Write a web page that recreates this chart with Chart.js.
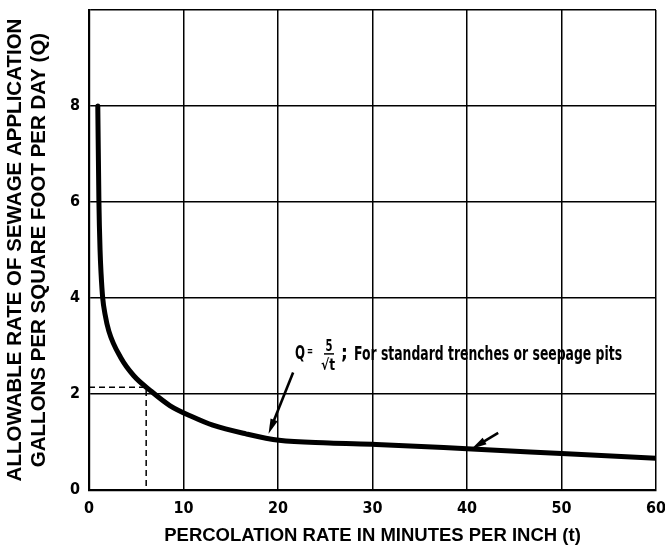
<!DOCTYPE html>
<html>
<head>
<meta charset="utf-8">
<script src="https://cdn.jsdelivr.net/npm/chart.js@4.4.1/dist/chart.umd.min.js"></script>
<style>
html, body { margin: 0; padding: 0; background: #fff; }
#wrap { width: 665px; height: 552px; }
</style>
</head>
<body>
<div id="wrap"><canvas id="chart" width="665" height="552"></canvas></div>
<script>
// percolation rate t (min per inch) and allowable rate Q
const rateT = [0.93, 1.05, 1.17, 1.28, 1.45, 1.7, 2.1, 3.35, 4.74, 6.5, 8.55, 11, 13.1, 16.6, 20.1, 25.4, 30.4, 40, 50, 60];
const rateQ = [8.0, 6.0, 5.0, 4.5, 4.0, 3.66, 3.31, 2.76, 2.38, 2.07, 1.76, 1.52, 1.35, 1.17, 1.035, 0.98, 0.95, 0.86, 0.76, 0.66];

// dashed reading guide (t about 6 -> Q about 2.1)
const guideT = [0, 6.05, 6.05];
const guideQ = [2.14, 2.14, 0];

const xTicks = [0, 10, 20, 30, 40, 50, 60];
const yTicks = [0, 2, 4, 6, 8];
const yTop = 10;

// arrows pointing at the curve, [t, Q]
const arrowFrom = [[21.6, 2.45], [43.3, 1.19]];
const arrowTo = [[19.0, 1.17], [40.5, 0.86]];
const noteAt = [21.8, 2.7];
const noteText = 'For standard trenches or seepage pits';

const narrow = '"Liberation Sans Narrow", "DejaVu Sans Condensed", sans-serif';
const wide = '"Liberation Sans", Arial, sans-serif';

const toPoints = (xs, ys) => xs.map((x, i) => ({ x: x, y: ys[i] }));

const notes = {
    id: 'notes',
    afterDatasetsDraw(chart) {
        const ctx = chart.ctx;
        const xs = chart.scales.x;
        const ys = chart.scales.y;
        ctx.save();
        ctx.fillStyle = '#000';
        ctx.strokeStyle = '#000';

        // arrows
        arrowFrom.forEach((from, i) => {
            const x1 = xs.getPixelForValue(from[0]), y1 = ys.getPixelForValue(from[1]);
            const x2 = xs.getPixelForValue(arrowTo[i][0]), y2 = ys.getPixelForValue(arrowTo[i][1]);
            const a = Math.atan2(y2 - y1, x2 - x1);
            const len = 15, half = 3.8;
            ctx.lineWidth = 2.6;
            ctx.beginPath();
            ctx.moveTo(x1, y1);
            ctx.lineTo(x2 - Math.cos(a) * len * 0.8, y2 - Math.sin(a) * len * 0.8);
            ctx.stroke();
            ctx.beginPath();
            ctx.moveTo(x2, y2);
            ctx.lineTo(x2 - Math.cos(a) * len - Math.sin(a) * half, y2 - Math.sin(a) * len + Math.cos(a) * half);
            ctx.lineTo(x2 - Math.cos(a) * len + Math.sin(a) * half, y2 - Math.sin(a) * len - Math.cos(a) * half);
            ctx.closePath();
            ctx.fill();
        });

        // formula note: Q = 5 / sqrt(t) ; text
        const x = xs.getPixelForValue(noteAt[0]);
        const y = ys.getPixelForValue(noteAt[1]);
        ctx.textBaseline = 'alphabetic';
        ctx.textAlign = 'left';
        ctx.font = 'bold 19px ' + narrow;
        ctx.fillText('Q', x, y - 1, 10);
        ctx.font = 'bold 13px ' + narrow;
        ctx.fillText('=', x + 12, y - 5, 6);
        const cx = x + 33;
        ctx.textAlign = 'center';
        ctx.font = 'bold 15px ' + narrow;
        ctx.fillText('5', cx + 1, y - 9, 7);
        ctx.lineWidth = 1.5;
        ctx.beginPath();
        ctx.moveTo(cx - 4, y - 6.5);
        ctx.lineTo(cx + 6, y - 6.5);
        ctx.stroke();
        ctx.fillText('\u221At', cx, y + 10, 14);
        ctx.textAlign = 'left';
        ctx.font = 'bold 19px ' + narrow;
        ctx.fillText(';', x + 46, y - 1);
        ctx.fillText(noteText, x + 59, y, 268);
        ctx.restore();
    }
};

new Chart(document.getElementById('chart'), {
    type: 'line',
    data: {
        datasets: [
            {
                data: toPoints(rateT, rateQ),
                borderColor: '#000',
                borderWidth: 5,
                pointRadius: 0,
                cubicInterpolationMode: 'monotone',
                borderCapStyle: 'round',
                fill: false
            },
            {
                data: toPoints(guideT, guideQ),
                borderColor: '#000',
                borderWidth: 1.5,
                borderDash: [6, 4],
                pointRadius: 0,
                tension: 0,
                fill: false
            }
        ]
    },
    options: {
        responsive: false,
        animation: false,
        devicePixelRatio: 1,
        layout: { padding: { top: 10, right: 9, left: 0, bottom: 0 } },
        plugins: {
            legend: { display: false },
            tooltip: { enabled: false }
        },
        scales: {
            x: {
                type: 'linear',
                min: xTicks[0],
                max: xTicks[xTicks.length - 1],
                afterFit: s => { s.height = 62; s.paddingLeft = 0; s.paddingRight = 0; },
                afterBuildTicks: s => { s.ticks = xTicks.map(v => ({ value: v })); },
                grid: { color: '#000', lineWidth: 1.5, drawTicks: false },
                border: { color: '#000', width: 2.2 },
                ticks: {
                    color: '#000',
                    padding: 9,
                    font: { family: narrow, size: 16, weight: 'bold' }
                },
                title: {
                    display: true,
                    text: 'PERCOLATION RATE IN MINUTES PER INCH (t)',
                    color: '#000',
                    padding: { top: 0, bottom: 5 },
                    font: { family: wide, size: 18.5, weight: 'bold', lineHeight: 1.2 }
                }
            },
            y: {
                min: 0,
                max: yTop,
                afterFit: s => { s.width = 89; s.paddingTop = 0; s.paddingBottom = 0; },
                afterBuildTicks: s => { s.ticks = yTicks.concat([yTop]).map(v => ({ value: v })); },
                grid: { color: '#000', lineWidth: 1.5, drawTicks: false },
                border: { color: '#000', width: 2.2 },
                ticks: {
                    color: '#000',
                    padding: 9,
                    font: { family: narrow, size: 16, weight: 'bold' },
                    callback: v => (yTicks.includes(v) ? String(v) : '')
                },
                title: {
                    display: true,
                    text: ['ALLOWABLE RATE OF SEWAGE APPLICATION', 'GALLONS PER SQUARE FOOT PER DAY (Q)'],
                    color: '#000',
                    padding: { top: 4, bottom: 0 },
                    font: { family: wide, size: 20.5, weight: 'bold', lineHeight: 1.15 }
                }
            }
        }
    },
    plugins: [notes]
});
</script>
</body>
</html>
